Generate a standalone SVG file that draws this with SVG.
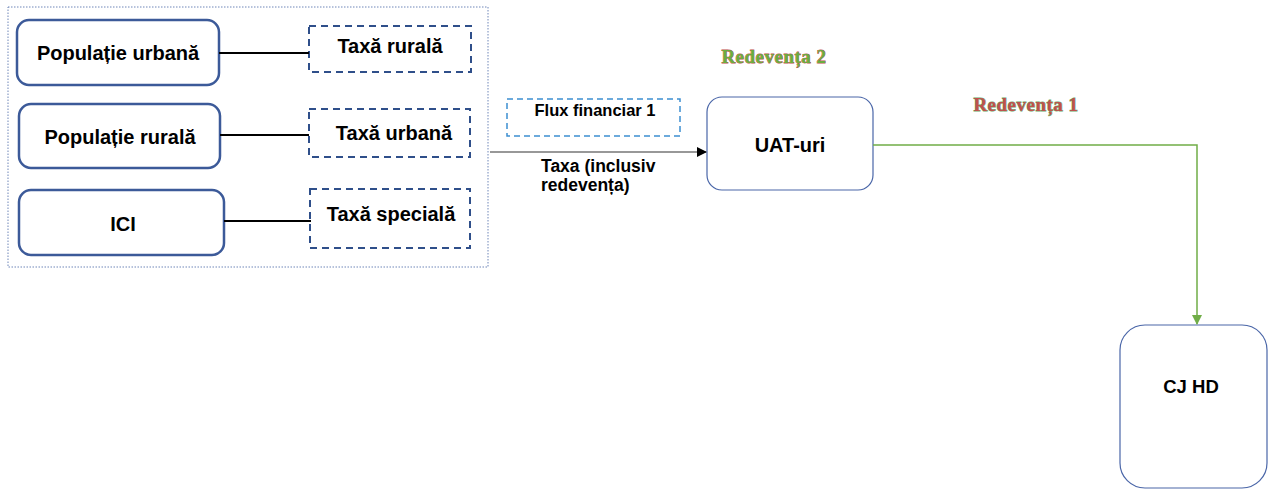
<svg xmlns="http://www.w3.org/2000/svg" width="1273" height="489" viewBox="0 0 1273 489">
<style>
.src{fill:#fff;stroke:#3c5a99;stroke-width:2.5}
.tax{fill:#fff;stroke:#2f4f8a;stroke-width:2;stroke-dasharray:7,5}
.t{font-family:"Liberation Sans",Arial,sans-serif;font-weight:bold;font-size:20px;fill:#000;text-anchor:middle}
.ln{stroke:#000;stroke-width:2;fill:none}
.rv{font-family:"Liberation Serif","Times New Roman",serif;font-weight:bold;font-size:19px;text-anchor:middle;paint-order:stroke}
</style>
<defs>
<marker id="ab" markerWidth="10" markerHeight="10" refX="9" refY="5" orient="auto" markerUnits="userSpaceOnUse">
<path d="M0,0 L10,5 L0,10 Z" fill="#000"/>
</marker>
<marker id="ag" markerWidth="10" markerHeight="10" refX="9" refY="5" orient="auto" markerUnits="userSpaceOnUse">
<path d="M0,0 L10,5 L0,10 Z" fill="#70ad47"/>
</marker>
</defs>
<rect x="8" y="7" width="480" height="260" fill="none" stroke="#6f86b8" stroke-width="1" stroke-dasharray="1.5,1.5"/>
<g id="pop-urbana"><rect class="src" x="17" y="20" width="202" height="65" rx="12"/><text class="t" x="118" y="60">Populație urbană</text></g>
<g id="pop-rurala"><rect class="src" x="19" y="104" width="201" height="64" rx="12"/><text class="t" x="120" y="144">Populație rurală</text></g>
<g id="ici"><rect class="src" x="19" y="190" width="205" height="65" rx="12"/><text class="t" x="123" y="231">ICI</text></g>
<g id="taxa-rurala"><rect class="tax" x="309" y="26" width="162" height="46"/><text class="t" x="390" y="53">Taxă rurală</text></g>
<g id="taxa-urbana"><rect class="tax" x="309" y="109" width="161" height="48"/><text class="t" x="394" y="140">Taxă urbană</text></g>
<g id="taxa-speciala"><rect class="tax" x="310" y="189" width="160" height="59"/><text class="t" x="391" y="221">Taxă specială</text></g>
<g id="flux"><rect x="507" y="99" width="173" height="37" fill="#fff" stroke="#3d8fd1" stroke-width="1.5" stroke-dasharray="6,4"/><text class="t" x="595" y="116" style="font-size:16.5px">Flux financiar 1</text></g>
<g id="uat"><rect x="707" y="97" width="166" height="93" rx="15" fill="#fff" stroke="#4a66a8" stroke-width="1.2"/><text class="t" x="790" y="152">UAT-uri</text></g>
<g id="cjhd"><rect x="1120" y="325" width="147" height="163" rx="25" fill="#fff" stroke="#4a66a8" stroke-width="1.2"/><text class="t" x="1191" y="393" style="font-size:18.5px">CJ HD</text></g>
<g id="connectors">
<line class="ln" x1="219" y1="53" x2="309" y2="53"/>
<line class="ln" x1="220" y1="135" x2="309" y2="135"/>
<line class="ln" x1="224" y1="221" x2="311" y2="221"/>
<line x1="490" y1="152" x2="706" y2="152" stroke="#333" stroke-width="1.2" marker-end="url(#ab)"/>
<polyline points="873,145 1197,145 1197,324" fill="none" stroke="#70ad47" stroke-width="1.5" marker-end="url(#ag)"/>
</g>
<g id="labels">
<text class="t" x="541" y="172" style="font-size:17.5px;text-anchor:start">Taxa (inclusiv</text>
<text class="t" x="541" y="191" style="font-size:17.5px;text-anchor:start">redevența)</text>
<text class="rv" x="774" y="63" fill="#6aad3f" stroke="#c0504d" stroke-width="0.8" letter-spacing="0.5">Redevența 2</text>
<text class="rv" x="1026" y="111" fill="#c0504d" stroke="#6aad6a" stroke-width="1" letter-spacing="0.5">Redevența 1</text>
</g>
</svg>
